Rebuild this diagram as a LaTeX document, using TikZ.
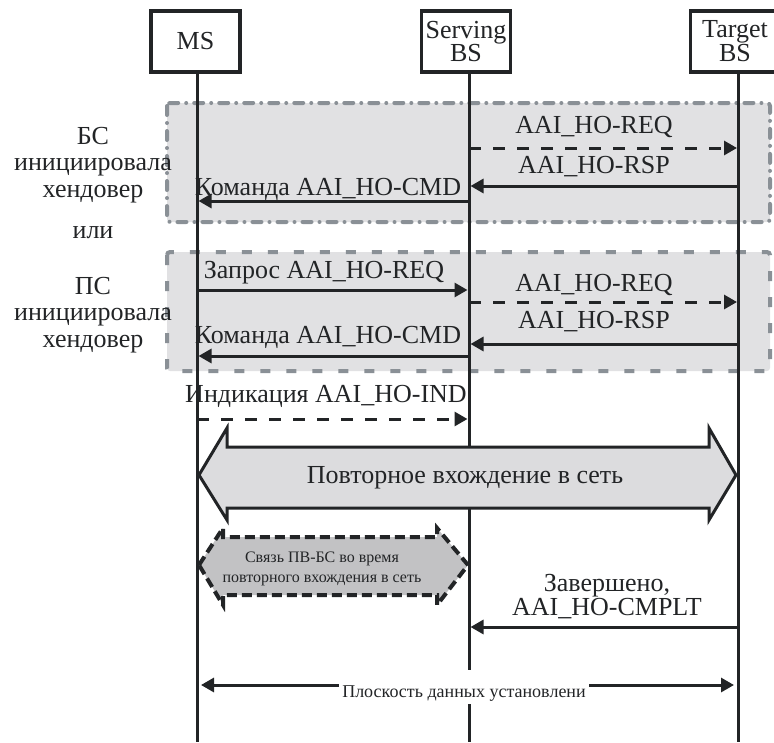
\documentclass[tikz,border=0pt]{standalone}
\usepackage{fontspec}
\setmainfont{Liberation Serif}
\usetikzlibrary{arrows.meta}
\definecolor{ink}{HTML}{222426}
\definecolor{regfill}{HTML}{E1E1E3}
\definecolor{regline}{HTML}{8A9096}
\definecolor{hexfill}{HTML}{C2C2C4}
\definecolor{bigfill}{HTML}{DCDCDE}
\begin{document}
\begin{tikzpicture}[x=1pt,y=-1pt,
  lbl/.style={font=\fontsize{26}{22}\selectfont, text=ink, inner sep=0pt, align=center},
  sidelbl/.style={font=\fontsize{26}{26.5}\selectfont, text=ink, inner sep=0pt, align=center},
  smalllbl/.style={font=\fontsize{16}{20}\selectfont, text=ink, inner sep=0pt, align=center},
  entity/.style={lbl, draw=ink, fill=white, line width=3.5pt, minimum width=89pt, minimum height=61pt},
  life/.style={draw=ink, line width=3pt},
  msg/.style={draw=ink, line width=3pt, shorten >=1.5pt, -{Triangle[length=13pt,width=14pt]}},
  dmsg/.style={msg, dash pattern=on 12pt off 12pt},
  region/.style={fill=regfill, draw=regline, line width=4pt, rounded corners=3pt},
]
\useasboundingbox (0,0) rectangle (774,742);

% regions
\draw[region, line cap=round, dash pattern=on 9pt off 8pt on 0.01pt off 8pt] (167,103) rectangle (770,222);
\draw[region, dash pattern=on 10pt off 16pt] (167,252) rectangle (770,371);

% lifelines
\coordinate (msL) at (197,74);
\coordinate (sL) at (469,74);
\coordinate (tL) at (738.5,74);
\coordinate (bot) at (0,742);
\draw[life] (msL) -- (msL |- bot);
\draw[life] (sL) -- (sL |- bot);
\draw[life] (tL) -- (tL |- bot);

% entities
\node[entity] (ms) at (195.5,41.5) {MS};
\node[entity] (sbs) at (466,41.5) {Serving\\BS};
\node[entity] (tbs) at (735,41.5) {Target\\BS};

% side labels (base anchor = baseline of last line)
\node[sidelbl, anchor=base] (bsinit) at (93,197) {БС\\инициировала\\хендовер};
\node[sidelbl, anchor=base] (ili) at (93,238) {или};
\node[sidelbl, anchor=base] (msinit) at (93,347) {ПС\\инициировала\\хендовер};

% rows
\coordinate (r1) at (0,148);
\coordinate (r2) at (0,186);
\coordinate (r3) at (0,201);
\coordinate (r4) at (0,290);
\coordinate (r5) at (0,302);
\coordinate (r6) at (0,344);
\coordinate (r7) at (0,356);
\coordinate (r8) at (0,419);
\coordinate (r9) at (0,627);

% region 1
\draw[dmsg] (sL |- r1) -- (tL |- r1);
\node[lbl, anchor=base] (l1) at (594,133) {AAI\_HO-REQ};
\draw[msg] (tL |- r2) -- (sL |- r2);
\node[lbl, anchor=base] (l2) at (594,173) {AAI\_HO-RSP};
\draw[msg] (sL |- r3) -- (msL |- r3);
\node[lbl, anchor=base] (l3) at (328,195) {Команда AAI\_HO-CMD};

% region 2
\draw[msg] (msL |- r4) -- (sL |- r4);
\node[lbl, anchor=base] (l4) at (324,278) {Запрос AAI\_HO-REQ};
\draw[dmsg] (sL |- r5) -- (tL |- r5);
\node[lbl, anchor=base] (l5) at (594,291) {AAI\_HO-REQ};
\draw[msg] (tL |- r6) -- (sL |- r6);
\node[lbl, anchor=base] (l6) at (594,328) {AAI\_HO-RSP};
\draw[msg] (sL |- r7) -- (msL |- r7);
\node[lbl, anchor=base] (l7) at (328,343) {Команда AAI\_HO-CMD};

% indication
\draw[dmsg] (msL |- r8) -- (sL |- r8);
\node[lbl, anchor=base] (l8) at (326,402) {Индикация AAI\_HO-IND};

% network re-entry big double arrow
\path[draw=ink, line width=3pt, fill=bigfill, line join=miter]
  (199,475) -- (227,428) -- (227,447) -- (709,447) -- (709,428) -- (736,475)
  -- (709,520) -- (709,508) -- (227,508) -- (227,520) -- cycle;
\node[lbl, anchor=base] (reentry) at (465,483) {Повторное вхождение в сеть};

% MS-BS communication during re-entry
\path[draw=ink, line width=4pt, fill=hexfill, dash pattern=on 10pt off 5pt]
  (199,565) -- (223,528) -- (223,537) -- (437,537) -- (437,528) -- (468,565)
  -- (437,605) -- (437,595) -- (223,595) -- (223,605) -- cycle;
\node[smalllbl, anchor=base] (comm) at (322,582) {Связь ПВ-БС во время\\повторного вхождения в сеть};

% completed
\draw[msg] (tL |- r9) -- (sL |- r9);
\node[lbl, anchor=base] (l9) at (607,615) {Завершено,\\AAI\_HO-CMPLT};

% data plane
\coordinate (dpl) at (201,685);
\coordinate (dpr) at (734,685);
\draw[draw=ink, line width=3pt, {Triangle[length=13pt,width=14pt]}-{Triangle[length=13pt,width=14pt]}] (dpl) -- (dpr);
\node[font=\fontsize{18}{20}\selectfont, text=ink, fill=white, inner xsep=3pt, inner ysep=2pt, text height=25pt, text depth=5pt] (dp) at (464,687) {Плоскость данных установлени};
\end{tikzpicture}
\end{document}
